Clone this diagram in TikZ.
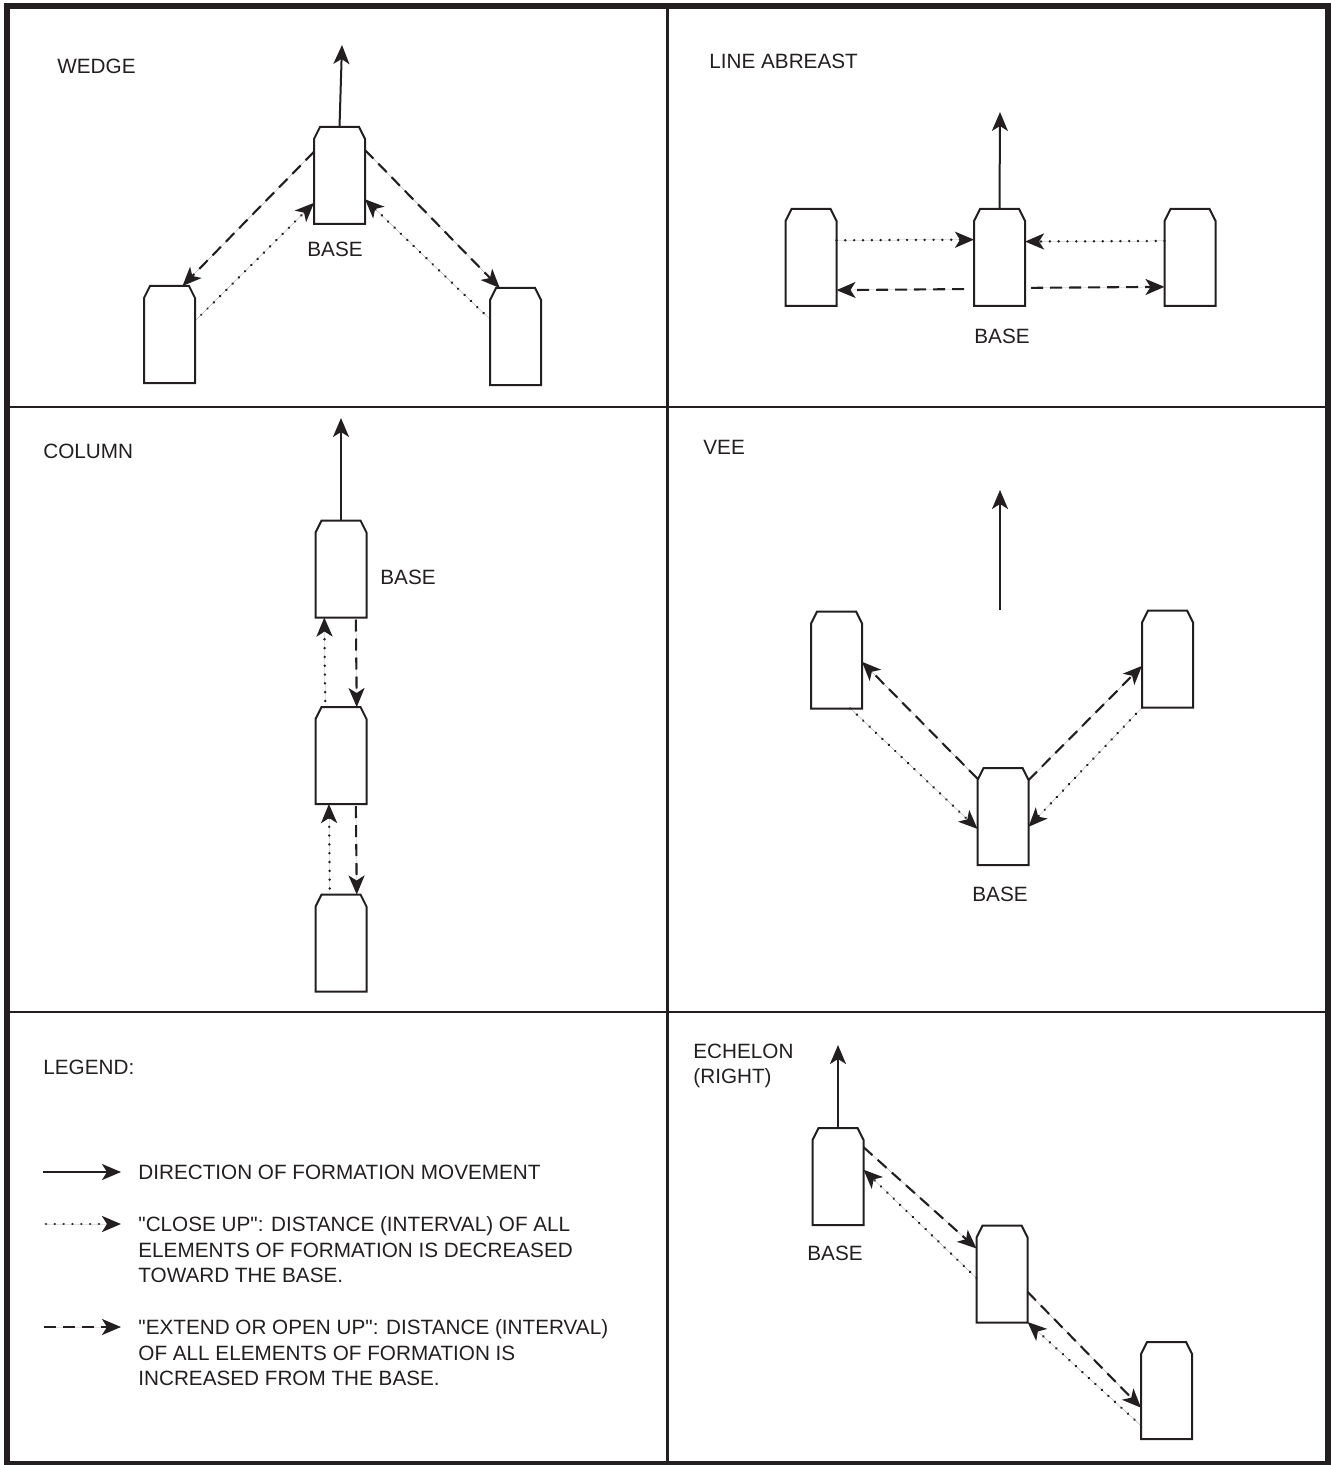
\documentclass[tikz,border=0pt]{standalone}
\usepackage{fontspec}
\setmainfont{Liberation Sans}[Ligatures=TeXOff]
\usetikzlibrary{arrows.meta}
\definecolor{ink}{RGB}{35,31,32}

% one formation element: a named box plus its chamfered outline
\newcommand\drawvehicle[3]{%
  \node[vehbox] (#1) at (#2,#3) {};
  \draw[vehline] ([yshift=-6pt]#1.north west) -- ([xshift=3pt]#1.north west)
    -- ([xshift=-3pt]#1.north east) -- ([yshift=-6pt]#1.north east)
    -- (#1.south east) -- (#1.south west) -- cycle;
}

\tikzset{
  vehbox/.style={rectangle, inner sep=0pt, outer sep=0pt,
    minimum width=25.5pt, minimum height=48.5pt},
  vehline/.style={draw=ink, line width=1pt, line join=miter, fill=white},
  arrowtip/.style={-{Stealth[length=9.5pt,width=8pt,inset=2.5pt]}},
  dirarrow/.style={arrowtip, draw=ink, fill=ink, line width=1pt},
  closeuparrow/.style={arrowtip, draw=ink, fill=ink, line width=1.35pt,
    line cap=round, dash pattern=on 0.01pt off 4.4pt},
  openuparrow/.style={arrowtip, draw=ink, fill=ink, line width=1.05pt,
    dash pattern=on 6pt off 3.5pt},
  txt/.style={text=ink, inner sep=0pt, font=\fontsize{10.35pt}{12.75pt}\selectfont},
  frameline/.style={draw=ink, line cap=rect},
}

\begin{document}
\begin{tikzpicture}[x=0.5pt,y=-0.5pt]
\useasboundingbox (0,0) rectangle (1331,1465);

% panel frame
\draw[frameline, line width=3pt] (7,6.5) rectangle (1328,1463.5);
\draw[frameline, line width=1.5pt] (667.5,6.5) -- (667.5,1463.5);
\draw[frameline, line width=1.25pt] (7,407) -- (1328,407);
\draw[frameline, line width=1.25pt] (7,1012) -- (1328,1012);

% ---------------- WEDGE ----------------
\node[txt, anchor=base west] (twedge) at (57,74) {WEDGE};
\drawvehicle{wb}{339.5}{175.5}
\drawvehicle{wl}{169.5}{334.5}
\drawvehicle{wr}{515.5}{336.5}
\node[txt] (wbase) at (335,249) {BASE};
\coordinate (wdir) at (342,45);
\draw[dirarrow] (wb.north) -- (wdir);
\draw[openuparrow] (wb.137.3) -- (wl.75);
\draw[closeuparrow] (wl.28.4) -- (wb.227.5);
\draw[openuparrow] (wb.45) -- (wr.108.2);
\draw[closeuparrow] (wr.146) -- (wb.317);

% ---------------- LINE ABREAST ----------------
\node[txt, anchor=base west] (tline) at (709,69) {LINE ABREAST};
\drawvehicle{lb}{999.5}{257.5}
\drawvehicle{ll}{811}{257.5}
\drawvehicle{lr}{1190}{257.5}
\node[txt] (lbase) at (1002,336) {BASE};
\coordinate (ldir) at (1000,112);
\draw[dirarrow] (lb.north) -- (ldir);
\draw[closeuparrow] (ll.34.5) -- (lb.145.5);
\draw[closeuparrow] (lr.147.9) -- (lb.32.1);
\draw[openuparrow, shorten <=5pt] (lb.231.9) -- (ll.308.1);
\draw[openuparrow, shorten <=3pt] (lb.310.6) -- (lr.229.4);

% ---------------- COLUMN ----------------
\node[txt, anchor=base west] (tcolumn) at (43,458) {COLUMN};
\drawvehicle{c1}{341}{569}
\drawvehicle{c2}{341}{755.5}
\drawvehicle{c3}{341}{943}
\node[txt] (cbase) at (408,577) {BASE};
\coordinate (cdir) at (341,418);
\draw[dirarrow] (c1.north) -- (cdir);
\draw[closeuparrow, shorten <=3pt] (c2.108.3) -- (c1.251.7);
\draw[openuparrow, shorten <=1pt] (c1.287.9) -- (c2.72.1);
\draw[closeuparrow, shorten <=3pt] (c3.103.6) -- (c2.256.4);
\draw[openuparrow, shorten <=1pt] (c2.287.9) -- (c3.72.1);

% ---------------- VEE ----------------
\node[txt, anchor=base west] (tvee) at (703,454) {VEE};
\drawvehicle{vl}{836.5}{660}
\drawvehicle{vb}{1003}{816.5}
\drawvehicle{vr}{1167.5}{659}
\node[txt] (vbase) at (1000,894) {BASE};
\coordinate (vdira) at (1000,610);
\coordinate (vdirb) at (1000,490);
\draw[dirarrow] (vdira) -- (vdirb);
\draw[openuparrow] (vb.124.4) -- (vl.356.2);
\draw[closeuparrow] (vl.286.7) -- (vb.206.7);
\draw[openuparrow] (vb.55.3) -- (vr.195.4);
\draw[closeuparrow] (vr.south west) -- (vb.338.2);

% ---------------- ECHELON (RIGHT) ----------------
\node[txt, anchor=north west, align=left] (techelon) at (693,1043.3) {ECHELON\\(RIGHT)};
\drawvehicle{eb}{838}{1176.5}
\drawvehicle{e2}{1002}{1274}
\drawvehicle{e3}{1166.5}{1390.5}
\node[txt] (ebase) at (835,1253.5) {BASE};
\coordinate (edir) at (838,1045);
\draw[dirarrow] (eb.north) -- (edir);
\draw[openuparrow] (eb.49.1) -- (e2.135.9);
\draw[closeuparrow] (e2.189.6) -- (eb.15.8);
\draw[openuparrow] (e2.325.2) -- (e3.214.9);
\draw[closeuparrow] (e3.234.8) -- (e2.298.1);

% ---------------- LEGEND ----------------
\node[txt, anchor=base west] (tlegend) at (43,1074) {LEGEND:};
\coordinate (ka) at (43,1172);
\coordinate (kb) at (121,1172);
\draw[dirarrow] (ka) -- (kb);
\node[txt, anchor=base west] (kdir) at (138,1179) {DIRECTION OF FORMATION MOVEMENT};
\coordinate (kc) at (46,1224);
\coordinate (kd) at (121,1224);
\draw[closeuparrow] (kc) -- (kd);
\node[txt, anchor=north west, align=left] (kclose) at (138,1216.5)
  {"CLOSE UP": DISTANCE (INTERVAL) OF ALL\\ELEMENTS OF FORMATION IS DECREASED\\TOWARD THE BASE.};
\coordinate (ke) at (44,1327);
\coordinate (kf) at (121,1327);
\draw[openuparrow] (ke) -- (kf);
\node[txt, anchor=north west, align=left] (kopen) at (138,1319.5)
  {"EXTEND OR OPEN UP": DISTANCE (INTERVAL)\\OF ALL ELEMENTS OF FORMATION IS\\INCREASED FROM THE BASE.};
\end{tikzpicture}
\end{document}
